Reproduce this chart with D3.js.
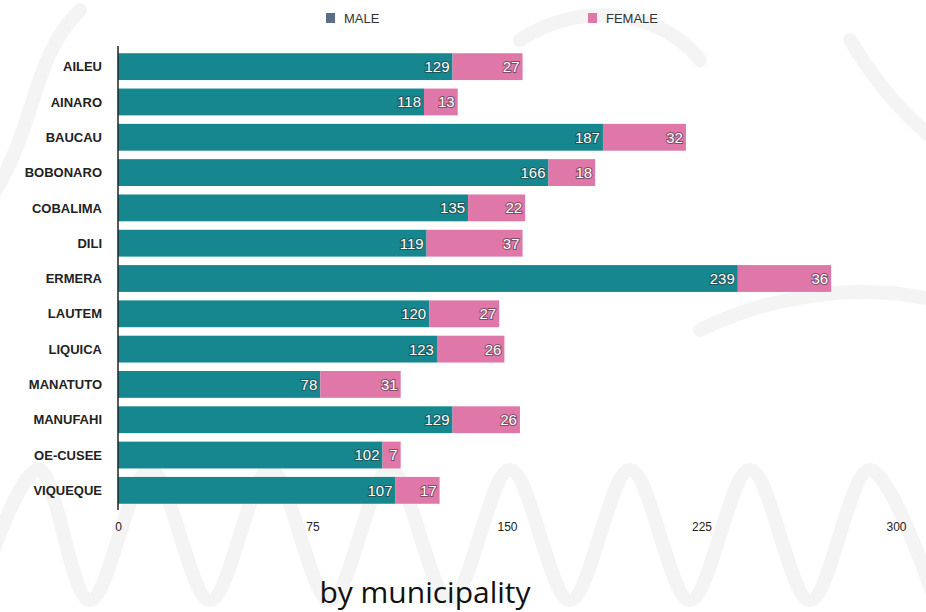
<!DOCTYPE html>
<html>
<head>
<meta charset="utf-8">
<script src="https://cdn.jsdelivr.net/npm/d3@7"></script>
<style>
  body { margin: 0; background: #fff; }
  svg { display: block; }
  .cat { font-family: "Liberation Sans", Arial, sans-serif; font-weight: bold; font-size: 13px; fill: #222; }
  .tick text { font-family: "Liberation Sans", Arial, sans-serif; font-size: 12px; fill: #222; }
  .val { font-family: "Liberation Sans", Arial, sans-serif; font-size: 15px; fill: #fff; paint-order: stroke; stroke: rgba(40,40,40,0.55); stroke-width: 2px; }
  .legend { font-family: "Liberation Sans", Arial, sans-serif; font-size: 13px; fill: #333; }
  .title { font-family: "Open Sans", "Noto Sans", sans-serif; font-size: 30px; fill: #111; }
</style>
</head>
<body>
<svg width="926" height="612"></svg>
<script>
// Data
const municipalities = ["AILEU", "AINARO", "BAUCAU", "BOBONARO", "COBALIMA", "DILI", "ERMERA",
  "LAUTEM", "LIQUICA", "MANATUTO", "MANUFAHI", "OE-CUSEE", "VIQUEQUE"];
const male = [129, 118, 187, 166, 135, 119, 239, 120, 123, 78, 129, 102, 107];
const female = [27, 13, 32, 18, 22, 37, 36, 27, 26, 31, 26, 7, 17];
const xTicks = [0, 75, 150, 225, 300];

const svg = d3.select("svg");
const width = 926;
const height = 612;

// faint background decoration
const deco = svg.append("g").attr("fill", "none").attr("stroke", "#f4f4f4").attr("stroke-width", 14).attr("stroke-linecap", "round");
deco.append("path").attr("d", d3.line().curve(d3.curveCardinal)(
  [[-10, 560], [40, 470], [90, 600], [150, 470], [210, 600], [270, 470], [330, 600], [390, 470], [450, 600],
   [510, 470], [570, 600], [630, 470], [690, 600], [750, 470], [810, 600], [870, 470], [935, 600]]));
deco.append("path").attr("d", "M-10,200 C40,120 30,60 80,10");
deco.append("path").attr("d", "M520,40 C580,0 660,10 700,60");
deco.append("path").attr("d", "M850,40 C880,90 910,120 935,140");
deco.append("path").attr("d", "M700,330 C760,300 850,280 935,300");

const margin = { left: 118, right: 30, top: 49, bottom: 104 };

const x = d3.scaleLinear().domain([0, 300]).range([margin.left, 896]);
const y = d3.scaleBand()
  .domain(municipalities)
  .range([margin.top, height - margin.bottom])
  .paddingInner(0.24)
  .paddingOuter(0.12);

const rows = municipalities.map((m, i) => ({ name: m, male: male[i], female: female[i] }));

const maleColor = "#16878f";
const femaleColor = "#df77a8";

const bars = svg.append("g").selectAll("g").data(rows).enter().append("g");

bars.append("rect")
  .attr("x", x(0))
  .attr("y", (d) => y(d.name))
  .attr("width", (d) => x(d.male) - x(0))
  .attr("height", y.bandwidth())
  .attr("fill", maleColor);

bars.append("rect")
  .attr("x", (d) => x(d.male))
  .attr("y", (d) => y(d.name))
  .attr("width", (d) => x(d.male + d.female) - x(d.male))
  .attr("height", y.bandwidth())
  .attr("fill", femaleColor);

bars.append("text")
  .attr("class", "val")
  .attr("x", (d) => x(d.male) - 3)
  .attr("y", (d) => y(d.name) + y.bandwidth() / 2)
  .attr("dy", "0.36em")
  .attr("text-anchor", "end")
  .text((d) => d.male);

bars.append("text")
  .attr("class", "val")
  .attr("x", (d) => x(d.male + d.female) - 3)
  .attr("y", (d) => y(d.name) + y.bandwidth() / 2)
  .attr("dy", "0.36em")
  .attr("text-anchor", "end")
  .text((d) => d.female);

// category labels
svg.append("g").selectAll("text").data(municipalities).enter().append("text")
  .attr("class", "cat")
  .attr("x", 102)
  .attr("y", (d) => y(d) + y.bandwidth() / 2)
  .attr("dy", "0.36em")
  .attr("text-anchor", "end")
  .text((d) => d);

// vertical axis line
svg.append("line")
  .attr("x1", x(0)).attr("x2", x(0))
  .attr("y1", 46).attr("y2", 510)
  .attr("stroke", "#222").attr("stroke-width", 1.5);

// x axis labels
const xAxis = svg.append("g")
  .attr("transform", `translate(0,${522})`)
  .call(d3.axisBottom(x).tickValues(xTicks).tickSize(0).tickPadding(0));
xAxis.select(".domain").remove();

// legend
const legend = [
  { label: "MALE", color: "#5a6f86", x: 326 },
  { label: "FEMALE", color: femaleColor, x: 588 },
];
const lg = svg.append("g").selectAll("g").data(legend).enter().append("g")
  .attr("transform", (d) => `translate(${d.x},12)`);
lg.append("rect").attr("width", 9).attr("height", 10).attr("y", 1).attr("fill", (d) => d.color);
lg.append("text").attr("class", "legend").attr("x", 18).attr("y", 11).text((d) => d.label);

// title
svg.append("text")
  .attr("class", "title")
  .attr("x", 425)
  .attr("y", 603)
  .attr("text-anchor", "middle")
  .text("by municipality");
</script>
</body>
</html>
